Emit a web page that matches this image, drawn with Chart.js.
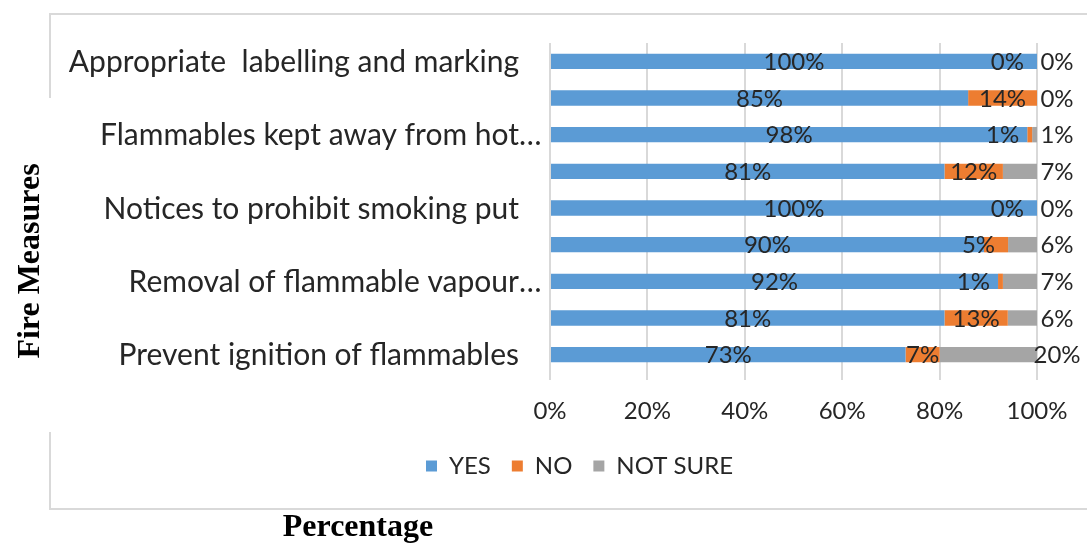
<!DOCTYPE html>
<html>
<head>
<meta charset="utf-8">
<script src="https://cdn.jsdelivr.net/npm/chart.js@4"></script>
<style>
  html, body { margin: 0; padding: 0; background: #fff; }
  #wrap { position: relative; width: 1087px; height: 544px; overflow: hidden; }
</style>
</head>
<body>
<div id="wrap"><canvas id="chart" width="1087" height="544"></canvas></div>
<script>
// categories, top to bottom (unlabelled rows are blank in the original)
const measures = [
    'Appropriate  labelling and marking',
    '',
    'Flammables kept away from hot\u2026',
    '',
    'Notices to prohibit smoking put',
    '',
    'Removal of flammable vapour\u2026',
    '',
    'Prevent ignition of flammables'
];
const yesPct = [100, 85, 98, 81, 100, 90, 92, 81, 73];
const noPct = [0, 14, 1, 12, 0, 5, 1, 13, 7];
const notSurePct = [0, 0, 1, 7, 0, 6, 7, 6, 20];
const xTicks = [0, 20, 40, 60, 80, 100];

const FONT = 'Lato, "Open Sans", sans-serif';
const TEXT = '#262626';

// 100% stacked: each row scaled to its own total, labels keep the read values
const totals = yesPct.map((v, i) => v + noPct[i] + notSurePct[i]);
const share = arr => arr.map((v, i) => v / totals[i] * 100);

const frame = {
    id: 'frame',
    afterLayout(chart) {
        // legend sits a bit right of the canvas centre in the original
        chart.legend.left += 36;
        chart.legend.right += 36;
    },
    beforeDraw(chart) {
        const ctx = chart.ctx;
        ctx.save();
        ctx.fillStyle = '#fff';
        ctx.fillRect(0, 0, chart.width, chart.height);
        ctx.strokeStyle = '#d9d9d9';
        ctx.lineWidth = 2;
        ctx.beginPath();
        ctx.moveTo(1090, 14); ctx.lineTo(50, 14); ctx.lineTo(50, 98);
        ctx.moveTo(50, 432); ctx.lineTo(50, 509); ctx.lineTo(1090, 509);
        ctx.stroke();
        ctx.restore();
    },
    afterDraw(chart) {
        const ctx = chart.ctx;
        // category labels: truncated ones let the ellipsis run past the edge, as in Excel
        const y = chart.scales.y;
        ctx.save();
        ctx.font = '30px ' + FONT;
        ctx.fillStyle = TEXT;
        ctx.textBaseline = 'middle';
        const edge = chart.chartArea.left - 31;
        measures.forEach((name, i) => {
            if (!name) return;
            const py = y.getPixelForValue(i) + 1;
            if (name.endsWith('\u2026')) {
                ctx.textAlign = 'right';
                ctx.fillText(name.slice(0, -1), edge, py);
                ctx.textAlign = 'left';
                ctx.fillText('\u2026', edge, py);
            } else {
                ctx.textAlign = 'right';
                ctx.fillText(name, edge, py);
            }
        });
        ctx.restore();

        ctx.save();
        ctx.fillStyle = '#000';
        ctx.font = 'bold 32px "Liberation Serif", "Times New Roman", serif';
        ctx.textAlign = 'center';
        ctx.textBaseline = 'middle';
        ctx.translate(31, 261);
        ctx.rotate(-Math.PI / 2);
        ctx.fillText('Fire Measures', 0, 0);
        ctx.restore();
        ctx.save();
        ctx.fillStyle = '#000';
        ctx.font = 'bold 32px "Liberation Serif", "Times New Roman", serif';
        ctx.textAlign = 'center';
        ctx.textBaseline = 'middle';
        ctx.fillText('Percentage', 358, 528);
        ctx.restore();
    }
};

const barLabels = {
    id: 'barLabels',
    afterDatasetsDraw(chart) {
        const ctx = chart.ctx;
        ctx.save();
        ctx.font = '24px ' + FONT;
        ctx.fillStyle = TEXT;
        ctx.textBaseline = 'middle';
        chart.data.datasets.forEach((ds, di) => {
            const meta = chart.getDatasetMeta(di);
            meta.data.forEach((bar, i) => {
                const txt = ds.raw[i] + '%';
                const left = Math.min(bar.base, bar.x);
                const right = Math.max(bar.base, bar.x);
                const w = ctx.measureText(txt).width;
                let x = (left + right) / 2;
                ctx.textAlign = 'center';
                if (di === 1 && w > right - left) {
                    ctx.textAlign = 'right';
                    x = right - 13;
                } else if (di === 2) {
                    x = chart.chartArea.right + 20;
                }
                ctx.fillText(txt, x, bar.y + 1);
            });
        });
        ctx.restore();
    }
};

new Chart(document.getElementById('chart'), {
    type: 'bar',
    data: {
        labels: measures,
        datasets: [
            { label: 'YES', raw: yesPct, data: share(yesPct), backgroundColor: '#5b9bd5' },
            { label: 'NO', raw: noPct, data: share(noPct), backgroundColor: '#ed7d31' },
            { label: 'NOT SURE', raw: notSurePct, data: share(notSurePct), backgroundColor: '#a5a5a5' }
        ]
    },
    options: {
        indexAxis: 'y',
        responsive: false,
        animation: false,
        layout: { padding: { left: 50, right: 50, top: 43, bottom: 56 } },
        datasets: { bar: { categoryPercentage: 1, barPercentage: 0.42 } },
        plugins: {
            legend: {
                position: 'bottom',
                labels: {
                    boxWidth: 11, boxHeight: 11, padding: 21,
                    color: TEXT, font: { family: FONT, size: 24 }
                }
            },
            tooltip: { enabled: false }
        },
        scales: {
            x: {
                stacked: true, min: 0, max: 100,
                afterBuildTicks: s => { s.ticks = xTicks.map(v => ({ value: v })); },
                afterFit: s => { s.height = 60; },
                ticks: { callback: v => v + '%', color: TEXT, font: { family: FONT, size: 24 }, padding: 17 },
                grid: { color: '#d9d9d9', lineWidth: 2, tickLength: 7 },
                border: { display: false }
            },
            y: {
                stacked: true,
                afterFit: s => { s.width = 500; },
                ticks: { display: false },
                grid: { display: false },
                border: { display: false }
            }
        }
    },
    plugins: [frame, barLabels]
});
</script>
</body>
</html>
